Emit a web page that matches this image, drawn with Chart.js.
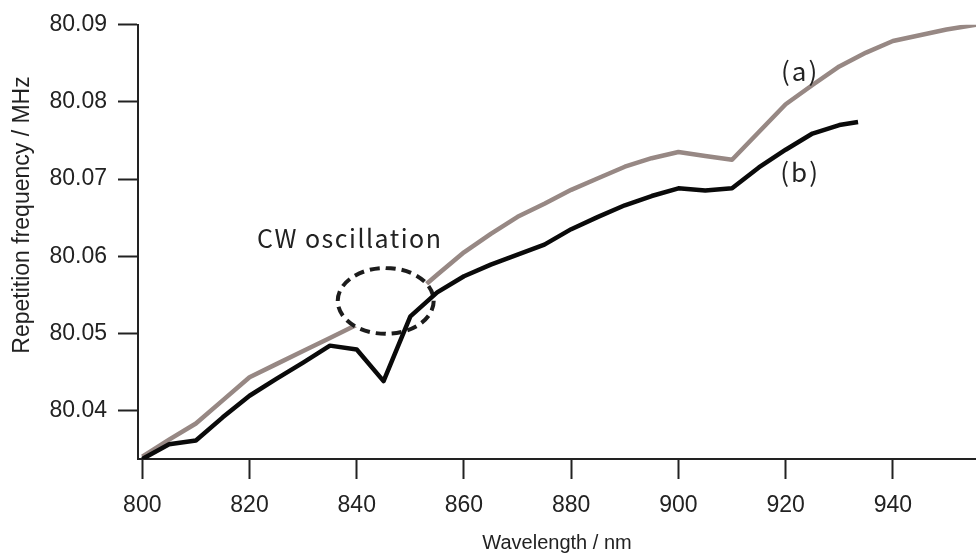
<!DOCTYPE html>
<html lang="en">
<head>
  <meta charset="UTF-8">
  <title>Repetition frequency vs wavelength</title>
  <script src="https://cdn.jsdelivr.net/npm/chart.js"></script>
  <style>
    html, body {
      margin: 0;
      padding: 0;
      background: #fff;
    }
    canvas {
      display: block;
    }
  </style>
</head>
<body>
  <canvas id="freqChart" width="976" height="555"></canvas>

  <script>
    // (a) wavelength / frequency
    const waveA = [800, 805, 810, 815, 820, 825, 830, 835, 840, 850, 855, 860, 865, 870, 875, 880, 885, 890, 895, 900, 905, 910, 915, 920, 925, 930, 935, 940, 950, 960];
    const freqA = [80.0340, 80.0362, 80.0383, 80.0413, 80.0443, 80.0460, 80.0477, 80.0494, 80.0511, 80.0546, 80.0576, 80.0605, 80.0629, 80.0651, 80.0668, 80.0686, 80.0701, 80.0716, 80.0727, 80.0735, 80.0730, 80.0725, 80.0761, 80.0797, 80.0822, 80.0846, 80.0864, 80.0879, 80.0894, 80.0905];

    // (b) wavelength / frequency
    const waveB = [800, 805, 810, 815, 820, 825, 830, 835, 840, 845, 850, 855, 860, 865, 870, 875, 880, 885, 890, 895, 900, 905, 910, 915, 920, 925, 930, 933.5];
    const freqB = [80.0337, 80.0356, 80.0361, 80.0391, 80.0419, 80.0441, 80.0462, 80.0484, 80.0479, 80.0438, 80.0522, 80.0553, 80.0574, 80.0589, 80.0602, 80.0615, 80.0635, 80.0651, 80.0666, 80.0678, 80.0688, 80.0685, 80.0688, 80.0715, 80.0738, 80.0759, 80.0770, 80.0774];

    const xTicks = [800, 820, 840, 860, 880, 900, 920, 940];
    const yTicks = [80.04, 80.05, 80.06, 80.07, 80.08, 80.09];

    // CW region marker (centre and half-axes in data units)
    const cwCenter = [845.4, 80.0542];
    const cwRadius = [8.95, 0.00427];
    const cwLabel = 'CW oscillation';
    const cwLabelAt = [821.4, 80.0610];
    const seriesLabels = ['(a)', '(b)'];
    const seriesLabelAt = [[922.7, 80.0840], [922.7, 80.0709]];
    const yTitle = 'Repetition frequency / MHz';

    const toPoints = (xs, ys) => xs.map((x, i) => ({ x: x, y: ys[i] }));

    const tickFont = { family: 'Liberation Sans, Arial, sans-serif', size: 23 };

    // white-filled dashed ellipse, painted between the two curves
    const cwMarker = {
      id: 'cwMarker',
      afterDatasetDraw(chart, args) {
        if (args.index !== 1) return;
        const xs = chart.scales.x, ys = chart.scales.y;
        const cx = xs.getPixelForValue(cwCenter[0]);
        const cy = ys.getPixelForValue(cwCenter[1]);
        const rx = xs.getPixelForValue(cwCenter[0] + cwRadius[0]) - cx;
        const ry = cy - ys.getPixelForValue(cwCenter[1] + cwRadius[1]);
        const ctx = chart.ctx;
        ctx.save();
        ctx.beginPath();
        ctx.ellipse(cx, cy, rx, ry, 0, 0, Math.PI * 2);
        ctx.fillStyle = '#fff';
        ctx.fill();
        ctx.setLineDash([10, 6]);
        ctx.lineWidth = 4;
        ctx.strokeStyle = '#1c1c1c';
        ctx.stroke();
        ctx.restore();
      }
    };

    const notes = {
      id: 'notes',
      afterDraw(chart) {
        const xs = chart.scales.x, ys = chart.scales.y;
        const ctx = chart.ctx;
        ctx.save();
        ctx.fillStyle = '#222';
        ctx.font = '25px "Noto Sans CJK JP", "Liberation Sans", sans-serif';
        ctx.letterSpacing = '1.5px';
        ctx.textAlign = 'left';
        ctx.textBaseline = 'alphabetic';
        ctx.fillText(cwLabel, xs.getPixelForValue(cwLabelAt[0]), ys.getPixelForValue(cwLabelAt[1]));
        ctx.font = '26px "Noto Sans CJK JP", "Liberation Sans", sans-serif';
        ctx.letterSpacing = '2px';
        ctx.textAlign = 'center';
        ctx.textBaseline = 'middle';
        seriesLabels.forEach((t, i) => {
          ctx.fillText(t, xs.getPixelForValue(seriesLabelAt[i][0]), ys.getPixelForValue(seriesLabelAt[i][1]));
        });

        // y axis title, sitting a little above the plot's middle
        ctx.letterSpacing = '0px';
        ctx.font = '23px "Liberation Sans", Arial, sans-serif';
        ctx.translate(23, 215);
        ctx.rotate(-Math.PI / 2);
        ctx.fillText(yTitle, 0, 0);
        ctx.restore();
      }
    };

    const ctx = document.getElementById('freqChart').getContext('2d');
    new Chart(ctx, {
      type: 'line',
      data: {
        datasets: [
          {
            label: '(b)',
            data: toPoints(waveB, freqB),
            borderColor: '#0a0a0a',
            borderWidth: 4.5,
            pointRadius: 0,
            tension: 0,
            fill: false,
            borderJoinStyle: 'round'
          },
          {
            label: '(a)',
            data: toPoints(waveA, freqA),
            borderColor: '#978884',
            borderWidth: 4.5,
            pointRadius: 0,
            tension: 0,
            fill: false,
            borderJoinStyle: 'round'
          }
        ]
      },
      options: {
        responsive: false,
        animation: false,
        layout: { padding: { top: 24, right: 0, left: 0, bottom: 0 } },
        plugins: {
          legend: { display: false },
          tooltip: { enabled: false }
        },
        scales: {
          x: {
            type: 'linear',
            min: 799.2,
            max: 955.5,
            afterFit: s => { s.height = 96; },
            afterBuildTicks: s => { s.ticks = xTicks.map(v => ({ value: v })); },
            grid: {
              drawOnChartArea: false,
              drawTicks: true,
              tickLength: 20,
              tickWidth: 2,
              tickColor: '#222'
            },
            border: { display: true, color: '#222', width: 2 },
            ticks: {
              font: tickFont,
              color: '#222',
              padding: 13,
              maxRotation: 0,
              callback: v => String(v)
            },
            title: {
              display: true,
              text: 'Wavelength / nm',
              font: { family: 'Liberation Sans, Arial, sans-serif', size: 20 },
              color: '#222',
              padding: { top: 0, bottom: 0 }
            }
          },
          y: {
            type: 'linear',
            min: 80.0337,
            max: 80.09,
            afterFit: s => { s.width = 138; },
            afterBuildTicks: s => { s.ticks = yTicks.map(v => ({ value: v })); },
            grid: {
              drawOnChartArea: false,
              drawTicks: true,
              tickLength: 20,
              tickWidth: 2,
              tickColor: '#222'
            },
            border: { display: true, color: '#222', width: 2 },
            ticks: {
              font: tickFont,
              color: '#222',
              padding: 11,
              callback: v => v.toFixed(2)
            },
            title: { display: false }
          }
        }
      },
      plugins: [cwMarker, notes]
    });
  </script>
</body>
</html>
